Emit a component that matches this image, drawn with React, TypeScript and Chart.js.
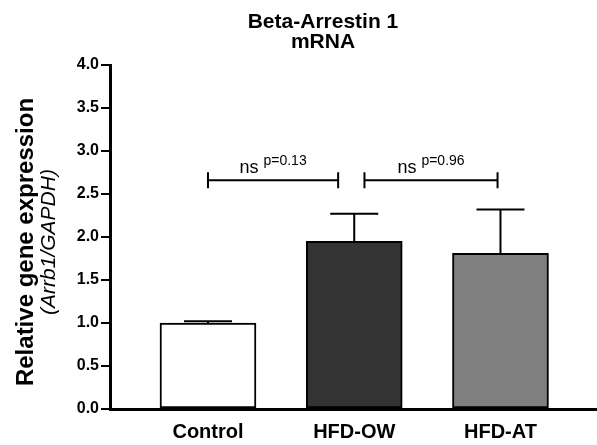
import React, { useEffect, useRef } from "react";
import { Chart, registerables } from "chart.js";

Chart.register(...registerables);

// ---- data ----
const categories = ["Control", "HFD-OW", "HFD-AT"];
const means = [1.0, 1.95, 1.81];
const sems = [0.02, 0.32, 0.51];
const barColors = ["#ffffff", "#333333", "#808080"];
const yTickStep = 0.5;
const yMin = 0;
const yMax = 4;
const compFrom = [0, 1.07];
const compTo = [0.89, 1.98];
const compLevel = [2.66, 2.66];
const compLabel = ["ns", "ns"];
const compP = ["p=0.13", "p=0.96"];
const titleLines = ["Beta-Arrestin 1", "mRNA"];
const yTitleMain = "Relative gene expression";
const yTitleSub = "(Arrb1/GAPDH)";

const FONT = "'Liberation Sans', Arial, Helvetica, sans-serif";

const annotationPlugin = {
  id: "annotations",
  afterDatasetsDraw(chart: any) {
    const { ctx, scales, chartArea } = chart;
    const xs = scales.x;
    const ys = scales.y;
    ctx.save();
    ctx.strokeStyle = "#000";
    ctx.fillStyle = "#000";
    ctx.lineWidth = 2;
    ctx.lineCap = "butt";
    // error bars (upper only)
    means.forEach((m, i) => {
      const x = xs.getPixelForValue(i);
      const yb = ys.getPixelForValue(m);
      const yt = ys.getPixelForValue(m + sems[i]);
      const half = 24;
      ctx.beginPath();
      ctx.moveTo(x, yb);
      ctx.lineTo(x, yt);
      ctx.moveTo(x - half, yt);
      ctx.lineTo(x + half, yt);
      ctx.stroke();
    });
    // comparison brackets
    compFrom.forEach((f, i) => {
      const x1 = xs.getPixelForValue(f);
      const x2 = xs.getPixelForValue(compTo[i]);
      const y = ys.getPixelForValue(compLevel[i]);
      ctx.beginPath();
      ctx.moveTo(x1, y);
      ctx.lineTo(x2, y);
      ctx.moveTo(x1, y - 8);
      ctx.lineTo(x1, y + 8);
      ctx.moveTo(x2, y - 8);
      ctx.lineTo(x2, y + 8);
      ctx.stroke();
      ctx.font = `18px ${FONT}`;
      const w1 = ctx.measureText(compLabel[i]).width;
      ctx.font = `14px ${FONT}`;
      const w2 = ctx.measureText(compP[i]).width;
      const gap = 5;
      const total = w1 + gap + w2;
      const start = (x1 + x2) / 2 - total / 2;
      ctx.textAlign = "left";
      ctx.textBaseline = "alphabetic";
      ctx.font = `18px ${FONT}`;
      ctx.fillText(compLabel[i], start, y - 7);
      ctx.font = `14px ${FONT}`;
      ctx.fillText(compP[i], start + w1 + gap, y - 15);
    });
    ctx.restore();

    // chart title
    ctx.save();
    ctx.fillStyle = "#000";
    ctx.textAlign = "center";
    ctx.textBaseline = "alphabetic";
    ctx.font = `bold 21px ${FONT}`;
    const tx = chart.width * 0.541;
    ctx.fillText(titleLines[0], tx, 28);
    ctx.fillText(titleLines[1], tx, 48);
    ctx.restore();

    // y axis title
    ctx.save();
    const cy = (chartArea.top + chartArea.bottom) / 2 + 5;
    ctx.fillStyle = "#000";
    ctx.textAlign = "center";
    ctx.textBaseline = "middle";
    ctx.translate(26, cy);
    ctx.rotate(-Math.PI / 2);
    ctx.font = `bold 24px ${FONT}`;
    ctx.fillText(yTitleMain, 0, 0);
    ctx.font = `italic 21px ${FONT}`;
    ctx.fillText(yTitleSub, 0, 23);
    ctx.restore();
  },
};

export default function App() {
  const ref = useRef<HTMLCanvasElement | null>(null);
  useEffect(() => {
    if (!ref.current) return;
    const chart = new Chart(ref.current, {
      type: "bar",
      data: {
        datasets: [
          {
            data: categories.map((_, i) => ({ x: i, y: means[i] })),
            backgroundColor: barColors,
            borderColor: "#000",
            borderWidth: 2,
            borderSkipped: false,
            barThickness: 96,
          },
        ],
      },
      options: {
        animation: false,
        responsive: false,
        layout: { padding: { top: 65, right: 0, bottom: 0, left: 0 } },
        plugins: {
          legend: { display: false },
          title: { display: false },
          tooltip: { enabled: false },
        },
        scales: {
          x: {
            type: "linear",
            offset: false,
            bounds: "data",
            min: -0.67,
            max: 2.66,
            grid: { display: false, drawTicks: false, offset: false },
            border: { display: true, color: "#000", width: 3 },
            afterBuildTicks: (s: any) => {
              s.ticks = categories.map((_, i) => ({ value: i }));
            },
            afterFit: (s: any) => {
              s.height = 36;
            },
            ticks: {
              color: "#000",
              font: { family: FONT, size: 20, weight: "bold" },
              padding: 11,
              maxRotation: 0,
              autoSkip: false,
              callback: (v: any) => categories[Math.round(v)] ?? "",
            },
          },
          y: {
            min: yMin,
            max: yMax,
            grid: {
              drawOnChartArea: false,
              drawTicks: true,
              tickLength: 9,
              color: "#000",
              lineWidth: 2,
            },
            border: { display: true, color: "#000", width: 3 },
            afterFit: (s: any) => {
              s.width = 110;
            },
            ticks: {
              stepSize: yTickStep,
              color: "#000",
              padding: 2,
              font: { family: FONT, size: 16, weight: "bold" },
              callback: (v: any) => Number(v).toFixed(1),
            },
          },
        },
      },
      plugins: [annotationPlugin],
    });
    return () => chart.destroy();
  }, []);
  return (
    <div style={{ position: "absolute", left: 0, top: 0, width: 597, height: 445, background: "#fff" }}>
      <canvas ref={ref} width={597} height={445} />
    </div>
  );
}
